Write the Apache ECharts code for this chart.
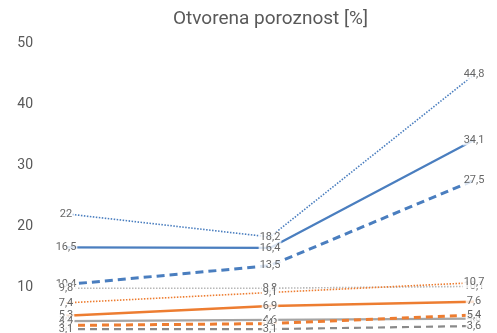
<!DOCTYPE html>
<html>
<head>
<meta charset="utf-8">
<script src="https://cdn.jsdelivr.net/npm/echarts@6/dist/echarts.min.js"></script>
<style>
  html, body { margin: 0; padding: 0; background: #ffffff; overflow: hidden; }
  #chart { width: 497px; height: 360px; }
</style>
</head>
<body>
<div id="chart"></div>
<script>
// Three measuring points per sample
const categories = ['1', '2', '3'];

// Open porosity [%] per series
const blueDotted   = [22.0, 18.2, 44.8];
const blueSolid    = [16.5, 16.4, 34.1];
const blueDashed   = [10.4, 13.5, 27.5];
const grayDotted   = [9.8, 9.8, 10.1];
const orangeDotted = [7.4, 9.1, 10.7];
const orangeSolid  = [5.3, 6.9, 7.6];
const graySolid    = [4.4, 4.6, 4.8];
const orangeDashed = [3.7, 4.0, 5.4];
const grayDashed   = [3.1, 3.1, 3.6];

const yTicks = { min: 0, max: 50, interval: 10 };

const BLUE = '#4a7ebf';
const ORANGE = '#ed7d31';
const GRAY = '#a5a5a5';
const DARKGRAY = '#8a8a8a';

const lines = [
  { name: 'blueDotted',   data: blueDotted,   color: BLUE,     width: 1.6, type: [1.5, 1.5] },
  { name: 'blueSolid',    data: blueSolid,    color: BLUE,     width: 2.2, type: 'solid' },
  { name: 'blueDashed',   data: blueDashed,   color: BLUE,     width: 3,   type: [8, 5] },
  { name: 'grayDotted',   data: grayDotted,   color: '#b8b8b8', width: 1.6, type: [1.5, 1.5] },
  { name: 'orangeDotted', data: orangeDotted, color: ORANGE,   width: 1.6, type: [1.5, 1.5] },
  { name: 'orangeSolid',  data: orangeSolid,  color: ORANGE,   width: 2.5, type: 'solid' },
  { name: 'graySolid',    data: graySolid,    color: GRAY,     width: 2.2, type: 'solid' },
  { name: 'orangeDashed', data: orangeDashed, color: ORANGE,   width: 3,   type: [7, 5] },
  { name: 'grayDashed',   data: grayDashed,   color: DARKGRAY, width: 2.2, type: [7, 5] }
];

const fmt = v => String(v).replace('.', ',');

const series = [];
// line strokes
lines.forEach(l => {
  series.push({
    name: l.name,
    type: 'line',
    data: l.data,
    z: 2,
    symbol: 'none',
    silent: true,
    lineStyle: { color: l.color, width: l.width, type: l.type, cap: 'butt' },
    itemStyle: { color: l.color },
    animation: false
  });
});
// value labels, drawn above every stroke
lines.forEach(l => {
  series.push({
    name: l.name + 'Label',
    type: 'scatter',
    data: l.data,
    z: 10,
    symbol: 'circle',
    symbolSize: 1,
    itemStyle: { color: 'rgba(0,0,0,0)' },
    silent: true,
    animation: false,
    label: {
      show: true,
      position: 'inside',
      formatter: p => fmt(p.value),
      color: '#404040',
      fontFamily: 'Roboto',
      fontSize: 11,
      backgroundColor: '#ffffff',
      padding: [0, 1, 0, 1],
      lineHeight: 11
    }
  });
});

const chart = echarts.init(document.getElementById('chart'), null, { renderer: 'canvas' });
chart.setOption({
  backgroundColor: '#ffffff',
  animation: false,
  title: {
    text: 'Otvorena poroznost [%]',
    left: 168,
    top: 5,
    textStyle: { fontFamily: 'Roboto', fontSize: 19, fontWeight: 'normal', color: '#595959' }
  },
  grid: { left: 66, right: 23, top: 43, bottom: 12, containLabel: false },
  xAxis: {
    type: 'category',
    data: categories,
    boundaryGap: false,
    axisLine: { show: false },
    axisTick: { show: false },
    axisLabel: { show: false }
  },
  yAxis: {
    type: 'value',
    min: yTicks.min,
    max: yTicks.max,
    interval: yTicks.interval,
    axisLine: { show: false },
    axisTick: { show: false },
    splitLine: { show: false },
    axisLabel: { color: '#595959', fontFamily: 'Roboto', fontSize: 14, margin: 33 }
  },
  series: series
});
</script>
</body>
</html>
